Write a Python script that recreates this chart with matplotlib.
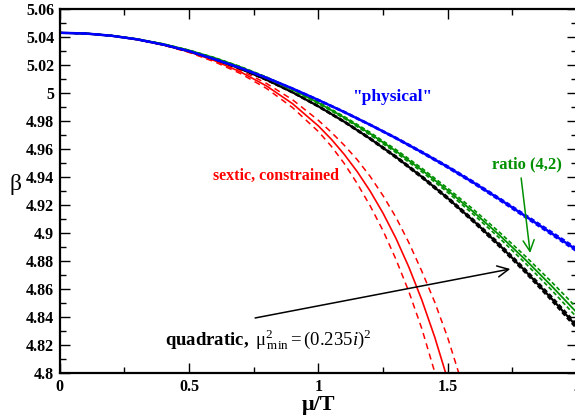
import matplotlib
matplotlib.use("Agg")
import matplotlib.pyplot as plt
import numpy as np

# mu/T grid shared by the quadratic, ratio and physical curves
mu = [0.0, 0.1, 0.2, 0.3, 0.4, 0.5, 0.6, 0.7, 0.8, 0.9, 1.0,
      1.1, 1.2, 1.3, 1.4, 1.5, 1.6, 1.7, 1.8, 1.9, 2.0]

quad_beta = [5.0430, 5.0425, 5.0409, 5.0383, 5.0346, 5.0299, 5.0241, 5.0173, 5.0094, 5.0005, 4.9905,
             4.9795, 4.9674, 4.9543, 4.9401, 4.9249, 4.9086, 4.8913, 4.8729, 4.8535, 4.8330]
quad_err = [0, 0, 0, 0, 0.0001, 0.0001, 0.0001, 0.0002, 0.0003, 0.0003, 0.0004,
            0.0005, 0.0006, 0.0007, 0.0008, 0.0009, 0.0010, 0.0012, 0.0013, 0.0015, 0.0017]

ratio_beta = [5.0430, 5.0425, 5.0410, 5.0385, 5.0350, 5.0305, 5.0250, 5.0185, 5.0110, 5.0025, 4.9930,
              4.9825, 4.9710, 4.9585, 4.9450, 4.9305, 4.9150, 4.8985, 4.8810, 4.8625, 4.8430]
ratio_err = [0, 0, 0, 0, 0.0001, 0.0001, 0.0002, 0.0003, 0.0004, 0.0005, 0.0006,
             0.0007, 0.0009, 0.0011, 0.0013, 0.0015, 0.0018, 0.0021, 0.0025, 0.0029, 0.0034]

phys_beta = [5.0430, 5.0425, 5.0409, 5.0383, 5.0346, 5.0299, 5.0241, 5.0178, 5.0108, 5.0032, 4.9950,
             4.9864, 4.9773, 4.9678, 4.9577, 4.9472, 4.9360, 4.9242, 4.9121, 4.9000, 4.8878]
phys_err = [0, 0, 0, 0, 0, 0.0001, 0.0001, 0.0001, 0.0002, 0.0002, 0.0003,
            0.0004, 0.0004, 0.0005, 0.0006, 0.0007, 0.0008, 0.0009, 0.0010, 0.0011, 0.0012]

# sextic fit, finer grid where it bends down steeply
mu_sextic = [0.0, 0.1, 0.2, 0.3, 0.4, 0.5, 0.6, 0.7, 0.8, 0.9, 1.0,
             1.05, 1.1, 1.15, 1.2, 1.25, 1.3, 1.35, 1.4, 1.45, 1.5, 1.55, 1.6]
sextic_beta = [5.0430, 5.0425, 5.0409, 5.0382, 5.0344, 5.0294, 5.0230, 5.0150, 5.0050, 4.9924, 4.9765,
               4.9670, 4.9562, 4.9439, 4.9300, 4.9142, 4.8962, 4.8756, 4.8522, 4.8256, 4.7953, 4.7608, 4.7217]
sextic_err = [0, 0, 0, 0.0001, 0.0002, 0.0004, 0.0008, 0.0012, 0.0018, 0.0028, 0.0040,
              0.0050, 0.0065, 0.0085, 0.0105, 0.0125, 0.0150, 0.0175, 0.0205, 0.0250, 0.0300, 0.0350, 0.0400]

xticks = [0, 0.5, 1, 1.5, 2]
yticks = [4.8, 4.82, 4.84, 4.86, 4.88, 4.9, 4.92, 4.94, 4.96, 4.98, 5.0, 5.02, 5.04, 5.06]

plt.rcParams.update({
    "font.family": "serif",
    "font.serif": ["Liberation Serif", "DejaVu Serif"],
    "mathtext.fontset": "custom",
    "mathtext.rm": "Liberation Serif",
    "mathtext.it": "Liberation Serif:italic",
    "mathtext.bf": "Liberation Serif:bold",
    "xtick.direction": "in",
    "ytick.direction": "in",
})

RED = "#ff0000"
GREEN = "#009000"
BLUE = "#0000ff"

fig = plt.figure(figsize=(5.75, 4.19), dpi=100)
ax = fig.add_axes([59.7 / 575, 1 - 373 / 419, (577 - 59.7) / 575, 364 / 419])


def draw_band(x, y, err, color, lw_mid, lw_dash, dashes):
    x = np.asarray(x)
    y = np.asarray(y)
    err = np.asarray(err)
    ax.plot(x, y, color=color, lw=lw_mid, solid_capstyle="butt")
    ax.plot(x, y + err, color=color, lw=lw_dash, dashes=dashes)
    ax.plot(x, y - err, color=color, lw=lw_dash, dashes=dashes)


draw_band(mu_sextic, sextic_beta, sextic_err, RED, 1.2, 1.1, (4, 3))
draw_band(mu, quad_beta, quad_err, "black", 1.6, 1.3, (2.5, 1.5))
draw_band(mu, ratio_beta, ratio_err, GREEN, 1.3, 1.2, (2.5, 1.5))
draw_band(mu, phys_beta, phys_err, BLUE, 1.8, 1.3, (2.5, 1.5))

ax.set_xlim(0, 2)
ax.set_ylim(4.8, 5.06)
ax.set_xticks(xticks)
ax.set_xticklabels(["%g" % t for t in xticks], fontweight="bold")
ax.set_yticks(yticks)
ax.set_yticklabels(["%g" % t for t in yticks], fontweight="bold")
ax.set_xticks(np.arange(0, 2.01, 0.25), minor=True)
ax.set_yticks(np.arange(4.8, 5.061, 0.01), minor=True)
ax.tick_params(which="both", top=True, right=True, labelsize=11.5, width=1.0)
ax.tick_params(which="major", length=7.5, pad=4)
ax.tick_params(which="minor", length=4)
for s in ax.spines.values():
    s.set_linewidth(1.6)

ax.set_xlabel("μ/T", fontsize=16, fontweight="bold", labelpad=0)
ax.set_ylabel("β", fontsize=17, rotation=0, labelpad=8)
ax.yaxis.set_label_coords(-0.085, 0.49)

ax.text(1.286, 4.997, '"physical"', color=BLUE, fontsize=12.5, fontweight="bold",
        ha="center", va="center")
ax.text(0.837, 4.9407, "sextic, constrained", color=RED, fontsize=11.5, fontweight="bold",
        ha="center", va="center")
ax.text(1.805, 4.949, "ratio (4,2)", color=GREEN, fontsize=12, fontweight="bold",
        ha="center", va="center")
ax.text(0.408, 4.820, r"$\mathbf{quadratic,}\ \mathrm{μ}^{2}_{\,\rm min} = (0.235\mathit{i})^{2}$",
        fontsize=13.5, ha="left", va="baseline")

ax.annotate("", xy=(1.742, 4.8743), xytext=(0.7555, 4.8393),
            arrowprops=dict(arrowstyle="->", color="black", lw=1.1, mutation_scale=20,
                            shrinkA=0, shrinkB=0))
ax.annotate("", xy=(1.819, 4.8857), xytext=(1.784, 4.9393),
            arrowprops=dict(arrowstyle="->", color=GREEN, lw=1.1, mutation_scale=20,
                            shrinkA=0, shrinkB=0))

fig.savefig("out.png", dpi=100)
